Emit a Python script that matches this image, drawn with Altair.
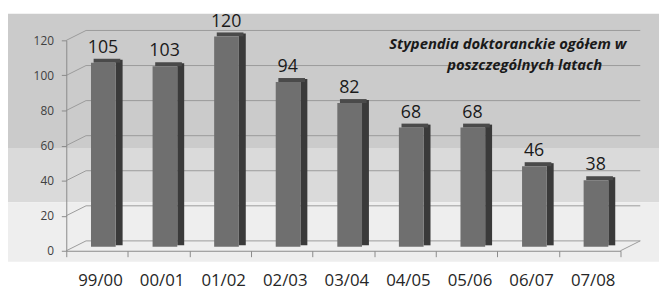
import altair as alt
import pandas as pd

categories = ["99/00", "00/01", "01/02", "02/03", "03/04", "04/05", "05/06", "06/07", "07/08"]
values = [105, 103, 120, 94, 82, 68, 68, 46, 38]
y_ticks = [0, 20, 40, 60, 80, 100, 120]
title_lines = ["Stypendia doktoranckie ogółem w", "poszczególnych latach"]
band_colors = ["#cbcbcb", "#dadada", "#eeeeee"]

df = pd.DataFrame({"year": categories, "n": values})
grid = pd.DataFrame({"v": y_ticks})
one = pd.DataFrame({"a": [0]})

W, H = 561, 213
FONT = "Open Sans"
GRID = "#9a9a9a"

xs = alt.Scale(domain=categories, paddingInner=0, paddingOuter=0)
ys = alt.Scale(domain=[0, 120], nice=False)

x_axis = alt.Axis(
    title=None, labelAngle=0, tickBand="extent", tickSize=6, labelPadding=16,
    labelFont=FONT, labelFontSize=17, labelColor="#262626", labelOffset=3,
    domainColor="#8a8a8a", tickColor="#8a8a8a", zindex=1,
)
y_axis = alt.Axis(
    title=None, values=y_ticks, tickSize=5, labelPadding=8, grid=False,
    labelFont=FONT, labelFontSize=12, labelColor="#404040",
    domainColor="#8a8a8a", tickColor="#8a8a8a", zindex=1,
)

X = alt.X("year:N", scale=xs, sort=categories, axis=x_axis, title=None)
Yn = alt.Y("n:Q", scale=ys, axis=y_axis, title=None)
Yv = alt.Y("v:Q", scale=ys, axis=y_axis, title=None)

# background bands
bands = [
    (-27, 109, band_colors[0]),
    (109, 164, band_colors[1]),
    (164, 224, band_colors[2]),
]
bg_layers = [
    alt.Chart(one).mark_rect(color=c).encode(
        x=alt.value(-59), x2=alt.value(600), y=alt.value(t), y2=alt.value(b)
    )
    for t, b, c in bands
]

back = alt.Chart(grid).mark_rule(color=GRID, strokeWidth=1, yOffset=-10).encode(
    y=Yv, x=alt.value(20), x2=alt.value(581)
)
diag = alt.Chart(grid).mark_rule(color=GRID, strokeWidth=1, y2Offset=-10).encode(
    y=Yv, y2=alt.Y2("v:Q"), x=alt.value(0), x2=alt.value(20)
)
floor = alt.Chart(grid).transform_filter("datum.v == 0").mark_rule(
    color=GRID, strokeWidth=1, y2Offset=-10
).encode(
    y=Yv, y2=alt.Y2("v:Q"), x=alt.value(561), x2=alt.value(581)
)

base = alt.Chart(df)

side = base.mark_bar(color="#3a3a3a", size=7, xOffset=22.35, yOffset=-7, y2Offset=-5.5).encode(
    x=X, y=Yn, y2=alt.datum(0)
)
top = base.mark_bar(color="#4a4a4a", size=27, xOffset=10, yOffset=-8, y2Offset=-4).encode(
    x=X, y=Yn, y2=alt.Y2("n:Q")
)
front = base.mark_bar(color="#6f6f6f", size=25, xOffset=6.35, yOffset=-4, y2Offset=-4).encode(
    x=X, y=Yn, y2=alt.datum(0)
)
labels = base.mark_text(
    font=FONT, fontSize=18, color="#1a1a1a", baseline="alphabetic", xOffset=6, yOffset=-14
).encode(x=X, y=Yn, text="n:Q")

t1 = alt.Chart(one).mark_text(
    font=FONT, fontSize=15, fontStyle="italic", fontWeight="bold", color="#1a1a1a", baseline="middle"
).encode(x=alt.value(447), y=alt.value(4), text=alt.value(title_lines[0]))
t2 = alt.Chart(one).mark_text(
    font=FONT, fontSize=15, fontStyle="italic", fontWeight="bold", color="#1a1a1a", baseline="middle"
).encode(x=alt.value(464), y=alt.value(25), text=alt.value(title_lines[1]))

chart = alt.layer(
    *bg_layers, back, diag, floor, side, top, front, labels, t1, t2
).properties(
    width=W, height=H, autosize="none",
    padding={"left": 59, "top": 31, "right": 41, "bottom": 40},
    background="white",
).configure_view(stroke=None)

chart.save("out.html", embed_options={"renderer": "svg", "actions": False})
